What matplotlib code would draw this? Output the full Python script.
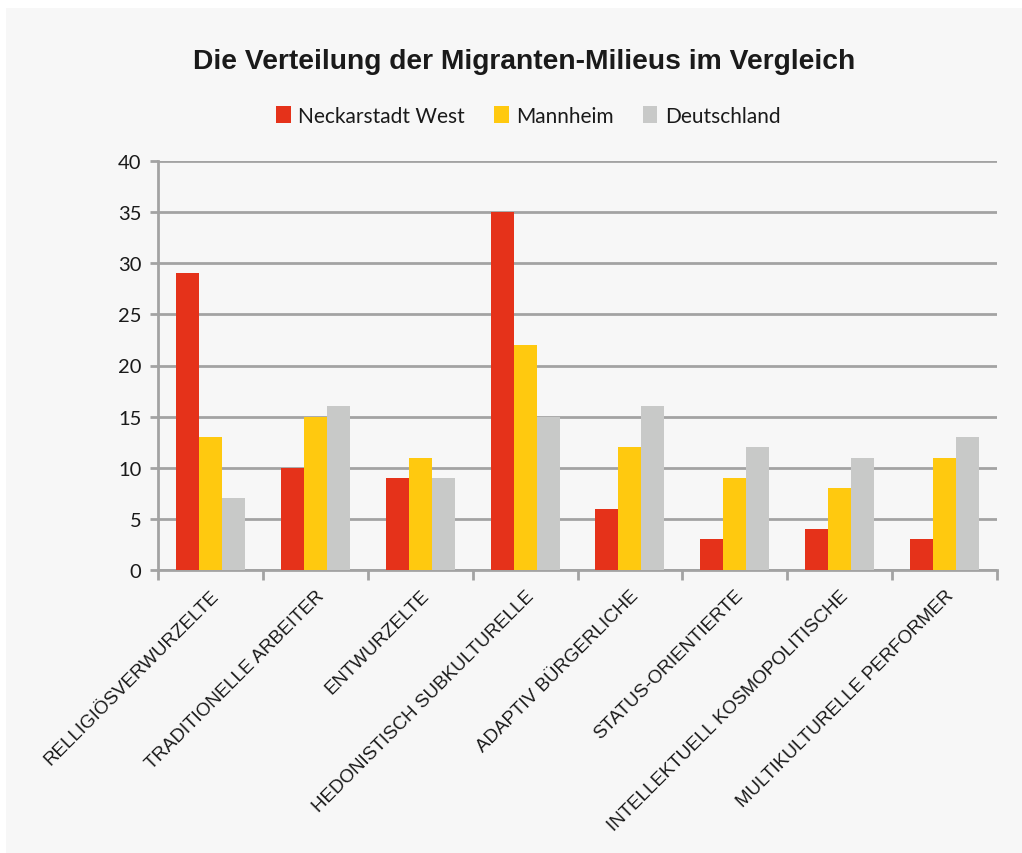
import numpy as np
import matplotlib.pyplot as plt
from matplotlib.patches import Rectangle

# DATA
categories = ['RELLIGIÖSVERWURZELTE', 'TRADITIONELLE ARBEITER', 'ENTWURZELTE',
              'HEDONISTISCH SUBKULTURELLE', 'ADAPTIV BÜRGERLICHE', 'STATUS-ORIENTIERTE',
              'INTELLEKTUELL KOSMOPOLITISCHE', 'MULTIKULTURELLE PERFORMER']
neckarstadt = [29, 10, 9, 35, 6, 3, 4, 3]
mannheim = [13, 15, 11, 22, 12, 9, 8, 11]
deutschland = [7, 16, 9, 15, 16, 12, 11, 13]
series_names = ['Neckarstadt West', 'Mannheim', 'Deutschland']
yticks = [0, 5, 10, 15, 20, 25, 30, 35, 40]

colors = ['#e5321a', '#ffc90f', '#c8c9c8']
gridc = '#a3a3a3'

fig = plt.figure(figsize=(10.22, 8.54), dpi=100, facecolor='white')
# light panel behind everything
fig.patches.append(Rectangle((6 / 1022, 0), 1, 1 - 9 / 854, transform=fig.transFigure,
                             facecolor='#f7f7f7', edgecolor='none', zorder=-10))

ax = fig.add_axes([158 / 1022, 1 - 571 / 854, (997 - 158) / 1022, (571 - 162) / 854])
ax.set_facecolor('none')

x = np.arange(len(categories))
w = 0.219
for i, (vals, name) in enumerate(zip([neckarstadt, mannheim, deutschland], series_names)):
    ax.bar(x + (i - 1) * w, vals, w, color=colors[i], label=name, zorder=3)

ax.set_xlim(-0.5, len(categories) - 0.5)
ax.set_ylim(0, 40)
ax.set_yticks(yticks)
ax.set_yticklabels([str(v) for v in yticks], fontfamily='Lato', fontsize=14.5, color='#1a1a1a')
ax.yaxis.grid(True, color=gridc, linewidth=2, zorder=0)
ax.set_axisbelow(True)

for s in ['top', 'right']:
    ax.spines[s].set_visible(False)
for s in ['left', 'bottom']:
    ax.spines[s].set_color(gridc)
    ax.spines[s].set_linewidth(2)

ax.tick_params(axis='y', length=6, width=2, color=gridc, pad=6)
# x ticks at category boundaries, labels at centers
ax.set_xticks(np.arange(len(categories) + 1) - 0.5)
ax.set_xticklabels([])
ax.tick_params(axis='x', length=7, width=2, color=gridc)
ax.set_xticks(x, minor=True)
ax.set_xticklabels(categories, minor=True, rotation=45, ha='right', va='top',
                   rotation_mode='anchor', fontfamily='Liberation Sans', fontsize=13.5,
                   color='#1a1a1a')
ax.tick_params(axis='x', which='minor', length=0, pad=12)

fig.text(0.513, 1 - 62 / 854, 'Die Verteilung der Migranten-Milieus im Vergleich',
         ha='center', va='center', fontfamily='Liberation Sans', fontweight='bold',
         fontsize=20.3, color='#1a1a1a')

leg = fig.legend(loc='center', bbox_to_anchor=(0.517, 1 - 117 / 854), ncol=3, frameon=False,
                 prop={'family': 'Lato', 'size': 15}, handlelength=0.7, handleheight=0.9,
                 handletextpad=0.35, columnspacing=1.4)
for t in leg.get_texts():
    t.set_color('#1a1a1a')

fig.savefig('out.png', dpi=100, facecolor=fig.get_facecolor())
